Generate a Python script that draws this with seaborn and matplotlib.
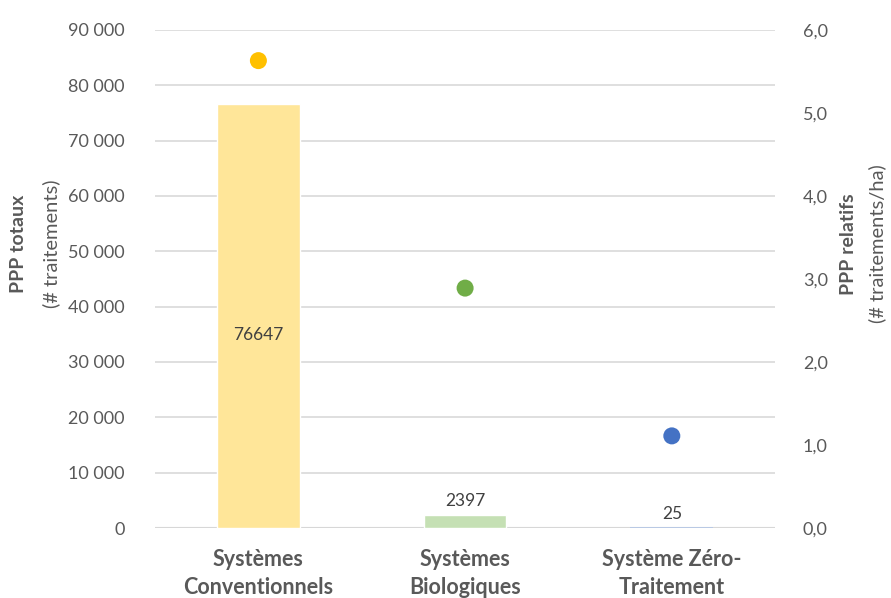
import numpy as np
import pandas as pd
import matplotlib
matplotlib.use("Agg")
import matplotlib.pyplot as plt
import seaborn as sns
from matplotlib.ticker import FuncFormatter, MultipleLocator

categories = ["Systèmes\nConventionnels", "Systèmes\nBiologiques", "Système Zéro-\nTraitement"]
ppp_totaux = [76647, 2397, 25]
ppp_relatifs = [5.63, 2.89, 1.11]
bar_colors = ["#FFE699", "#C5E0B4", "#B4C7E7"]
dot_colors = ["#FFC000", "#70AD47", "#4472C4"]

sns.set_theme(style="white")
plt.rcParams["font.family"] = ["Lato", "DejaVu Sans"]
grey = "#595959"

df = pd.DataFrame({"cat": categories, "tot": ppp_totaux, "rel": ppp_relatifs})

fig = plt.figure(figsize=(8.91, 5.98), dpi=100)
ax = fig.add_axes([0.174, 0.117, 0.696, 0.833])

sns.barplot(data=df, x="cat", y="tot", hue="cat", palette=bar_colors,
            width=0.4, legend=False, ax=ax, saturation=1)
ax.set_ylim(0, 90000)
ax.yaxis.set_major_locator(MultipleLocator(10000))
ax.yaxis.set_major_formatter(FuncFormatter(lambda v, p: f"{int(v):,}".replace(",", " ")))
ax.grid(axis="y", color="#D9D9D9", linewidth=1.2)
ax.set_axisbelow(True)
for s in ax.spines.values():
    s.set_visible(False)
ax.axhline(0, color="#D0D0D0", linewidth=1.5, zorder=0.5)
ax.set_xlabel("")
ax.set_ylabel("")
ax.tick_params(axis="y", colors=grey, labelsize=13, length=0, pad=22)
ax.tick_params(axis="x", colors=grey, length=0, pad=15)
for lbl in ax.get_xticklabels():
    lbl.set_fontsize(15.5)
    lbl.set_fontweight("bold")
    lbl.set_linespacing(1.4)

for i, cont in enumerate(ax.containers):
    if i == 0:
        ax.bar_label(cont, labels=[str(ppp_totaux[i])], label_type="center",
                     color="#404040", fontsize=12.5, padding=-14)
    else:
        ax.bar_label(cont, labels=[str(ppp_totaux[i])], label_type="edge",
                     padding=4, color="#404040", fontsize=12.5)
    for patch in cont:
        if patch.get_height() < 100:
            patch.set_edgecolor(bar_colors[i])
            patch.set_linewidth(1.2)

ax2 = ax.twinx()
sns.scatterplot(x=np.arange(len(categories)), y=ppp_relatifs, hue=np.arange(len(categories)),
                palette=dot_colors, s=150, edgecolor="none", legend=False, ax=ax2, zorder=3)
ax2.set_ylim(0, 6)
ax2.yaxis.set_major_locator(MultipleLocator(1))
ax2.yaxis.set_major_formatter(FuncFormatter(lambda v, p: f"{v:.1f}".replace(".", ",")))
ax2.tick_params(axis="y", colors=grey, labelsize=13, length=0, pad=20)
ax2.grid(False)
for s in ax2.spines.values():
    s.set_visible(False)
ax2.set_ylabel("")
ax.set_xlim(-0.5, 2.5)

fig.text(0.021, 0.592, "PPP totaux", rotation=90, fontsize=14, fontweight="bold",
         color=grey, ha="center", va="center")
fig.text(0.057, 0.592, "(# traitements)", rotation=90, fontsize=14.5,
         color=grey, ha="center", va="center")
fig.text(0.952, 0.592, "PPP relatifs", rotation=90, fontsize=14, fontweight="bold",
         color=grey, ha="center", va="center")
fig.text(0.985, 0.592, "(# traitements/ha)", rotation=90, fontsize=14.5,
         color=grey, ha="center", va="center")

fig.savefig("out.png", dpi=100)
